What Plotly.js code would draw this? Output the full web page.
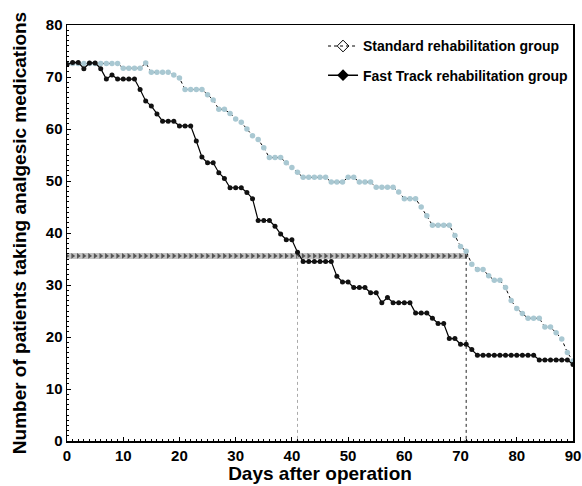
<!DOCTYPE html>
<html>
<head>
<meta charset="utf-8">
<script src="https://cdn.plot.ly/plotly-3.0.1.min.js"></script>
<style>html,body{margin:0;padding:0;background:#fff;}#chart{width:582px;height:486px;}</style>
</head>
<body>
<div id="chart"></div>
<script>
var days = [0,1,2,3,4,5,6,7,8,9,10,11,12,13,14,15,16,17,18,19,20,21,22,23,24,25,26,27,28,29,30,31,32,33,34,35,36,37,38,39,40,41,42,43,44,45,46,47,48,49,50,51,52,53,54,55,56,57,58,59,60,61,62,63,64,65,66,67,68,69,70,71,72,73,74,75,76,77,78,79,80,81,82,83,84,85,86,87,88,89,90];

var standardGroup = [72.6,72.6,72.6,72.6,72.6,72.6,72.6,72.6,72.6,72.6,
  71.7,71.7,71.7,71.7,72.7,70.9,70.9,70.9,70.9,70.4,
  69.8,67.6,67.6,67.6,67.6,66.6,65.6,63.8,63.8,63.0,
  61.9,61.3,60.0,58.7,58.0,56.4,54.5,54.5,54.5,53.5,
  52.6,51.7,50.7,50.7,50.7,50.7,50.7,49.8,49.8,49.8,
  50.7,50.7,49.8,49.8,49.8,48.8,48.8,48.8,48.8,47.9,
  46.6,46.6,46.6,45.0,43.3,41.5,41.5,41.5,41.5,39.5,
  37.4,36.5,34.0,33.0,33.0,31.8,30.9,30.9,29.5,27.0,
  25.5,24.5,23.6,23.6,23.6,21.9,21.9,20.8,19.6,17.0,
  15.4];

var fastTrackGroup = [72.4,72.8,72.8,71.6,72.7,72.7,71.6,69.6,70.4,69.6,
  69.6,69.6,69.6,67.6,65.4,64.4,62.9,61.5,61.5,61.5,
  60.6,60.6,60.6,57.7,54.6,53.5,53.5,51.6,50.5,48.7,
  48.7,48.7,47.8,46.6,42.4,42.4,42.4,41.3,39.8,38.7,
  38.7,36.3,34.5,34.5,34.5,34.5,34.5,34.5,31.7,30.6,
  30.6,29.5,29.5,29.5,28.5,28.5,26.6,27.6,26.6,26.6,
  26.6,26.6,24.6,24.6,24.6,23.6,22.6,22.6,19.7,19.7,
  18.6,18.6,17.6,16.5,16.5,16.5,16.5,16.5,16.5,16.5,
  16.5,16.5,16.5,16.5,15.6,15.6,15.6,15.6,15.6,15.6,
  14.7];

var halfLevel = 35.6;
var medianDays = [41, 71];   // Fast Track, Standard
var seriesNames = ['Standard rehabilitation group', 'Fast Track rehabilitation group'];

var halfDays = days.filter(function(d){ return d <= medianDays[1]; });
var halfVals = halfDays.map(function(){ return halfLevel; });

var FONT = '"Liberation Sans", Arial, sans-serif';

var traces = [
  {x: halfDays, y: halfVals, mode: 'lines', line: {color: '#c4c4c4', width: 6}, showlegend: false, hoverinfo: 'skip'},
  {x: halfDays, y: halfVals, mode: 'markers', marker: {symbol: 'triangle-right', size: 5, color: '#555'}, showlegend: false, hoverinfo: 'skip'},
  {x: [medianDays[0], medianDays[0]], y: [halfLevel, 0], mode: 'lines+markers',
   line: {color: '#aaaaaa', width: 1, dash: 'dot'},
   marker: {symbol: 'triangle-down', size: [0, 5], color: '#aaaaaa'}, showlegend: false, hoverinfo: 'skip'},
  {x: [medianDays[1], medianDays[1]], y: [halfLevel, 0], mode: 'lines+markers',
   line: {color: '#222', width: 1, dash: 'dot'},
   marker: {symbol: 'triangle-down', size: [0, 5], color: '#222'}, showlegend: false, hoverinfo: 'skip'},
  {x: days, y: standardGroup, mode: 'lines+markers', name: seriesNames[0],
   line: {color: '#000', width: 1, dash: 'dot'},
   marker: {symbol: 'circle', size: 5.5, color: '#a9c8d2'}, showlegend: false},
  {x: days, y: fastTrackGroup, mode: 'lines+markers', name: seriesNames[1],
   line: {color: '#000', width: 1.2},
   marker: {symbol: 'circle', size: 5, color: '#111'}, showlegend: false},
  {x: [null], y: [null], mode: 'lines+markers', name: seriesNames[0], legend: 'legend',
   line: {color: '#000', width: 1, dash: 'dot'},
   marker: {symbol: 'diamond-open', size: 9, color: '#000', line: {width: 1}}},
  {x: [null], y: [null], mode: 'lines+markers', name: seriesNames[1], legend: 'legend2',
   line: {color: '#000', width: 1.5},
   marker: {symbol: 'diamond', size: 9, color: '#000'}}
];

var axisCommon = {
  showgrid: false, zeroline: false, showline: true, linecolor: '#000', linewidth: 1.5,
  mirror: true, ticks: 'inside', ticklen: 4, tickcolor: '#000', tickwidth: 1,
  tickfont: {family: FONT, size: 15, color: '#000', weight: 'bold'},
  minor: {dtick: 1, ticks: 'inside', ticklen: 2, tickcolor: '#000', tickwidth: 1}
};

var layout = {
  width: 582, height: 486,
  margin: {l: 67, r: 9, t: 25, b: 45},
  paper_bgcolor: '#fff', plot_bgcolor: '#fff',
  font: {family: FONT, color: '#000'},
  xaxis: Object.assign({}, axisCommon, {
    range: [0, 90], dtick: 10, tick0: 0,
    title: {text: 'Days after operation', font: {family: FONT, size: 19, weight: 'bold', color: '#000'}, standoff: 4}
  }),
  yaxis: Object.assign({}, axisCommon, {
    range: [0, 80], dtick: 10, tick0: 0,
    title: {text: 'Number of patients taking analgesic medications', font: {family: FONT, size: 19, weight: 'bold', color: '#000'}, standoff: 14}
  }),
  legend: {x: 0.506, y: 0.987, xanchor: 'left', yanchor: 'top', bgcolor: 'rgba(0,0,0,0)',
    font: {family: FONT, size: 14, weight: 'bold', color: '#000'}, itemwidth: 30},
  legend2: {x: 0.506, y: 0.917, xanchor: 'left', yanchor: 'top', bgcolor: 'rgba(0,0,0,0)',
    font: {family: FONT, size: 14, weight: 'bold', color: '#000'}, itemwidth: 30},
  showlegend: true
};

Plotly.newPlot('chart', traces, layout, {displayModeBar: false, staticPlot: true});
</script>
</body>
</html>
